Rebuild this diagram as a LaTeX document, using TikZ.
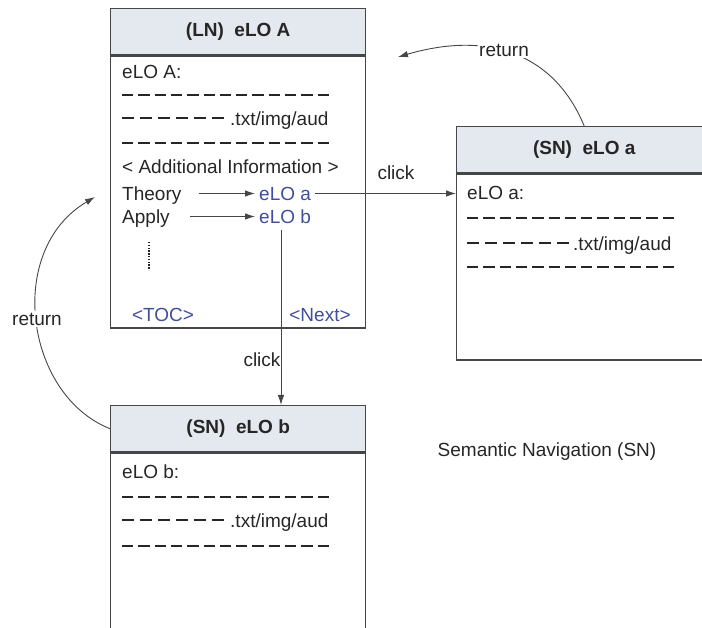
\documentclass[tikz,border=0pt]{standalone}
\usepackage{fontspec}
\setmainfont{Liberation Sans}
\usepackage{xcolor}
\usepackage{tikz}
\usetikzlibrary{arrows.meta, positioning, calc}

\definecolor{boxline}{RGB}{70,70,70}
\definecolor{headfill}{RGB}{228,232,239}
\definecolor{linkblue}{RGB}{64,78,155}

\tikzset{
  headbox/.style={draw=boxline, fill=headfill, line width=1.4pt, minimum width=255pt, minimum height=46pt, inner sep=0pt, text=black!85, font=\fontsize{19}{22}\selectfont\bfseries},
  bodybox/.style={draw=boxline, line width=1.4pt, minimum width=255pt, inner sep=0pt},
  txt/.style={anchor=west, inner sep=0pt, text height=13.6pt, text depth=0pt, text=black!85, font=\fontsize{19}{22}\selectfont},
  linktxt/.style={txt, text=linkblue},
  lbl/.style={txt, anchor=center, fill=white, inner sep=1.5pt},
  dashrow/.style={draw=black!85, line width=1.7pt, dash pattern=on 11.3pt off 5pt},
  shortrow/.style={dashrow, dash pattern=on 12pt off 6pt},
  conn/.style={draw=boxline, line width=0.9pt},
  linkarrow/.style={-{Latex[length=10pt,width=6.5pt]}},
}

\begin{document}
\begin{tikzpicture}[x=1pt, y=-1pt]
\useasboundingbox (0,0) rectangle (702,628);

\node[headbox, anchor=north west] (headA) at (110,8) {(LN)~~eLO A};
\node[bodybox, minimum height=272pt, below=0pt of headA] (bodyA) {};
\node[headbox, anchor=north west] (heada) at (456,126) {(SN)~~eLO a};
\node[bodybox, minimum height=186pt, below=0pt of heada] (bodya) {};
\node[headbox, anchor=north west] (headb) at (110,405) {(SN)~~eLO b};
\node[bodybox, minimum height=190pt, below=0pt of headb] (bodyb) {};

\node[txt] (titA) at (122,71.5) {eLO A:};
\draw[dashrow] (122,95) -- (332,95);
\draw[shortrow] (122,118) -- (224,118);
\node[txt] (medA) at (230,118.5) {.txt/img/aud};
\draw[dashrow] (122,143) -- (332,143);
\node[txt] (addA) at (122,166.5) {\textless{} Additional Information \textgreater};
\node[txt] (theory) at (122,193.5) {Theory};
\node[txt] (apply) at (122,216.5) {Apply};
\node[linktxt] (linka) at (259,193.5) {eLO a};
\node[linktxt] (linkb) at (259,216.5) {eLO b};
\draw[conn, linkarrow, shorten <=17pt, shorten >=4pt] (theory.east) -- (linka.west);
\draw[conn, linkarrow, shorten <=20pt, shorten >=4pt] (apply.east) -- (linkb.west);
\draw[draw=black!85, line width=1.6pt, dash pattern=on 1.5pt off 1.3pt] (149,242) -- (149,270);
\node[linktxt, anchor=center] (toc) at (163,315) {\textless TOC\textgreater};
\node[linktxt, anchor=center] (next) at (320,315) {\textless Next\textgreater};

\node[txt] (tita) at (467,193) {eLO a:};
\draw[dashrow] (467,218) -- (678,218);
\draw[shortrow] (467,243) -- (569,243);
\node[txt] (meda) at (573,243.5) {.txt/img/aud};
\draw[dashrow] (467,267) -- (678,267);

\node[txt] (titb) at (122,471.5) {eLO b:};
\draw[dashrow] (122,497) -- (332,497);
\draw[shortrow] (122,520) -- (224,520);
\node[txt] (medb) at (230,520.5) {.txt/img/aud};
\draw[dashrow] (122,546) -- (332,546);

\draw[conn, linkarrow, shorten <=4pt] (linka.east) -- (linka.east -| bodya.west);
\node[txt, anchor=center] (clicka) at (396,173) {click};
\coordinate (downb) at (281,230);
\draw[conn, linkarrow] (downb) -- (downb |- headb.north);
\node[txt, anchor=center] (clickb) at (262,360) {click};

\coordinate (backA) at (95,197);
\coordinate (backT) at (398,57);
\draw[conn, linkarrow] (headb.west) .. controls (25,395) and (5,250) .. (backA);
\node[lbl] (retb) at (37,319) {return};
\draw[conn, linkarrow] (heada.north) .. controls (555,55) and (490,30) .. (backT);
\node[lbl] (reta) at (504,50) {return};

\node[txt, anchor=center] (semnav) at (547,450) {Semantic Navigation (SN)};
\end{tikzpicture}
\end{document}
